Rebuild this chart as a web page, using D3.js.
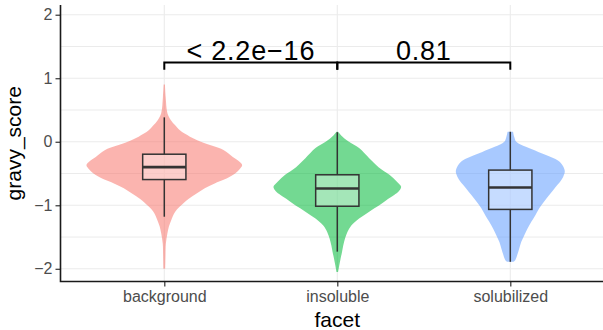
<!DOCTYPE html>
<html><head><meta charset="utf-8">
<script src="https://cdn.jsdelivr.net/npm/d3@7"></script>
<style>body{margin:0;background:#fff}svg{display:block}text{font-family:"Liberation Sans",Arial,sans-serif}</style>
</head><body><svg id="c" width="603" height="330"></svg>
<script>
const categories = ["background", "insoluble", "solubilized"];
const colors = ["#F8766D", "#00BA38", "#619CFF"];
const yTicks = [-2, -1, 0, 1, 2];
const yMinor = [-1.5, -0.5, 0.5, 1.5];

// violin density profiles (value, relative density)
const bgV = [0.9, 0.7, 0.45, 0.34, 0.26, 0.18, 0.08, 0, -0.13, -0.24, -0.32, -0.37, -0.43, -0.5, -0.58, -0.66, -0.73, -0.81, -0.9, -1.02, -1.12, -1.23, -1.33, -1.44, -1.6, -1.8, -2.0];
const bgD = [0.008, 0.018, 0.04, 0.085, 0.14, 0.2, 0.33, 0.47, 0.76, 0.88, 0.97, 1.0, 0.97, 0.91, 0.80, 0.64, 0.52, 0.42, 0.31, 0.2, 0.13, 0.09, 0.06, 0.04, 0.02, 0.015, 0.012];
const insV = [0.157, 0.1, 0, -0.1, -0.26, -0.4, -0.52, -0.62, -0.71, -0.78, -0.84, -0.92, -1.0, -1.1, -1.21, -1.32, -1.42, -1.52, -1.63, -1.74, -1.84, -1.95, -2.05];
const insD = [0.01, 0.05, 0.15, 0.28, 0.41, 0.53, 0.67, 0.76, 0.82, 0.79, 0.73, 0.63, 0.54, 0.41, 0.28, 0.18, 0.13, 0.10, 0.077, 0.06, 0.042, 0.025, 0.01];
const solV = [0.157, 0.08, 0, -0.08, -0.16, -0.24, -0.31, -0.39, -0.47, -0.55, -0.63, -0.73, -0.84, -0.95, -1.05, -1.16, -1.26, -1.37, -1.47, -1.58, -1.68, -1.78, -1.86, -1.89];
const solD = [0.035, 0.05, 0.077, 0.2, 0.36, 0.52, 0.63, 0.68, 0.70, 0.68, 0.64, 0.57, 0.5, 0.43, 0.37, 0.32, 0.27, 0.22, 0.18, 0.14, 0.115, 0.09, 0.065, 0.04];

// boxplot stats: [lower whisker, Q1, median, Q3, upper whisker]
const bgBox = [-1.18, -0.595, -0.40, -0.196, 0.384];
const insBox = [-1.73, -1.015, -0.737, -0.52, 0.15];
const solBox = [-1.89, -1.065, -0.72, -0.446, 0.157];

const comparisons = [["background", "insoluble", "< 2.2e\u221216"], ["insoluble", "solubilized", "0.81"]];
const bracketY = 1.248, bracketTip = 0.115;

const violins = [[bgV, bgD], [insV, insD], [solV, solD]];
const boxes = [bgBox, insBox, solBox];

const svg = d3.select("#c");
const L = 60.5, T = 5, B = 281.5;
const x = d3.scalePoint().domain(categories).range([L, L + 3.2 * 173]).padding(0.6);
const y = d3.scaleLinear().domain([-2.2, 2.153]).range([B, T]);
const step = x.step();
const w = d3.scaleLinear().domain([0, 1]).range([0, 0.45 * step]);

// grid
const g = svg.append("g");
yMinor.forEach(v => g.append("line").attr("x1", L).attr("x2", 603).attr("y1", y(v)).attr("y2", y(v)).attr("stroke", "#EBEBEB").attr("stroke-width", 1));
yTicks.forEach(v => g.append("line").attr("x1", L).attr("x2", 603).attr("y1", y(v)).attr("y2", y(v)).attr("stroke", "#EBEBEB").attr("stroke-width", 1.1));
categories.forEach(c => g.append("line").attr("x1", x(c)).attr("x2", x(c)).attr("y1", T).attr("y2", B).attr("stroke", "#EBEBEB").attr("stroke-width", 1.1));

// violins
categories.forEach((c, i) => {
  const [vs, ds] = violins[i];
  const pts = vs.map((v, k) => ({v, d: ds[k]}));
  const area = d3.area().y(p => y(p.v)).x0(p => x(c) - w(p.d)).x1(p => x(c) + w(p.d)).curve(d3.curveCatmullRom);
  svg.append("path").attr("d", area(pts)).attr("fill", colors[i]).attr("fill-opacity", 0.55);
});

// boxes
const bw = 0.125 * step;
categories.forEach((c, i) => {
  const s = boxes[i], cx = x(c);
  const bg = svg.append("g").attr("stroke", "#333333").attr("stroke-width", 1.5);
  bg.append("line").attr("x1", cx).attr("x2", cx).attr("y1", y(s[0])).attr("y2", y(s[1]));
  bg.append("line").attr("x1", cx).attr("x2", cx).attr("y1", y(s[3])).attr("y2", y(s[4]));
  bg.append("rect").attr("x", cx - bw).attr("width", 2 * bw).attr("y", y(s[3])).attr("height", y(s[1]) - y(s[3]))
    .attr("fill", "#FFFFFF").attr("fill-opacity", 0.35);
  bg.append("line").attr("x1", cx - bw).attr("x2", cx + bw).attr("y1", y(s[2])).attr("y2", y(s[2])).attr("stroke-width", 2.6);
});

// significance brackets
comparisons.forEach(([a, b, lab]) => {
  const x1 = x(a), x2 = x(b);
  svg.append("path").attr("d", `M${x1},${y(bracketY - bracketTip)}V${y(bracketY)}H${x2}V${y(bracketY - bracketTip)}`)
    .attr("fill", "none").attr("stroke", "#000").attr("stroke-width", 2);
  svg.append("text").attr("x", (x1 + x2) / 2).attr("y", y(bracketY) - 2.8).attr("text-anchor", "middle")
    .attr("font-size", 27).attr("letter-spacing", 0.8).attr("fill", "#000").text(lab);
});

// axes
const yAxis = svg.append("g").attr("transform", `translate(${L},0)`)
  .call(d3.axisLeft(y).tickValues(yTicks).tickSize(5).tickPadding(3).tickFormat(d => d < 0 ? "\u2212" + Math.abs(d) : d));
yAxis.select(".domain").remove();
yAxis.selectAll(".tick line").attr("stroke", "#333").attr("stroke-width", 1.2);
yAxis.selectAll(".tick text").attr("font-size", 16).attr("fill", "#4D4D4D").attr("font-family", "Liberation Sans, Arial, sans-serif");

const xAxis = svg.append("g").attr("transform", `translate(0,${B})`)
  .call(d3.axisBottom(x).tickSize(5).tickPadding(4));
xAxis.select(".domain").remove();
xAxis.selectAll(".tick line").attr("stroke", "#333").attr("stroke-width", 1.2);
xAxis.selectAll(".tick text").attr("font-size", 16).attr("fill", "#4D4D4D").attr("font-family", "Liberation Sans, Arial, sans-serif");

svg.append("path").attr("d", `M${L},${T}V${B}H603`).attr("fill", "none").attr("stroke", "#1A1A1A").attr("stroke-width", 1.6);

svg.append("text").attr("transform", `translate(${20.5},${(T + B) / 2}) rotate(-90)`).attr("text-anchor", "middle")
  .attr("font-size", 21).attr("fill", "#000").text("gravy_score");
svg.append("text").attr("x", x("insoluble")).attr("y", 327).attr("text-anchor", "middle")
  .attr("font-size", 21).attr("fill", "#000").text("facet");
</script></body></html>
